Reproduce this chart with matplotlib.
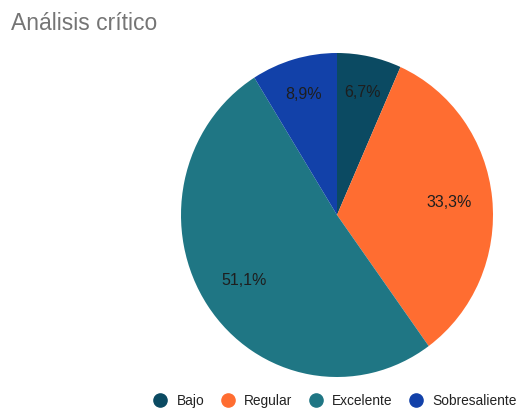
import matplotlib
matplotlib.use("Agg")
import matplotlib.pyplot as plt
import numpy as np
from matplotlib.lines import Line2D

plt.rcParams['font.family'] = ['Liberation Sans', 'DejaVu Sans']

categories = ["Bajo", "Regular", "Excelente", "Sobresaliente"]
values = [3, 15, 23, 4]
colors = ["#0b4a62", "#ff6d31", "#1f7684", "#1241a9"]
label_dist = [0.775, 0.72, 0.72, 0.775]

fig = plt.figure(figsize=(5.21, 4.09), dpi=100)
ax = fig.add_axes([181 / 521, 32 / 409, 312 / 521, 324 / 409])

def fmt(p):
    return f"{p:.1f}%".replace(".", ",")

wedges, texts, autotexts = ax.pie(values, colors=colors, startangle=90, counterclock=False,
                                  autopct=fmt, pctdistance=0.73, radius=1,
                                  wedgeprops=dict(linewidth=0))
for w, t, d in zip(wedges, autotexts, label_dist):
    ang = np.deg2rad((w.theta1 + w.theta2) / 2)
    t.set_position((d * np.cos(ang), d * np.sin(ang)))
    t.set_fontsize(11.5)
    t.set_color("#1e1e1e")
ax.set_xlim(-1, 1)
ax.set_ylim(-1, 1)
ax.set_aspect("auto")

fig.text(11 / 521, 1 - 24 / 409, "Análisis crítico", fontsize=16.5, color="#757575",
         ha="left", va="center")

handles = [Line2D([0], [0], marker="o", linestyle="", markersize=9.5,
                  markerfacecolor=c, markeredgecolor=c) for c in colors]
fig.legend(handles, categories, loc="center", bbox_to_anchor=(335 / 521, 1 - 401 / 409),
           ncol=4, frameon=False, fontsize=9.9, handlelength=1, handletextpad=0.7,
           columnspacing=1.2, labelcolor="#222222", borderpad=0, borderaxespad=0)

fig.savefig("out.png", dpi=100)
